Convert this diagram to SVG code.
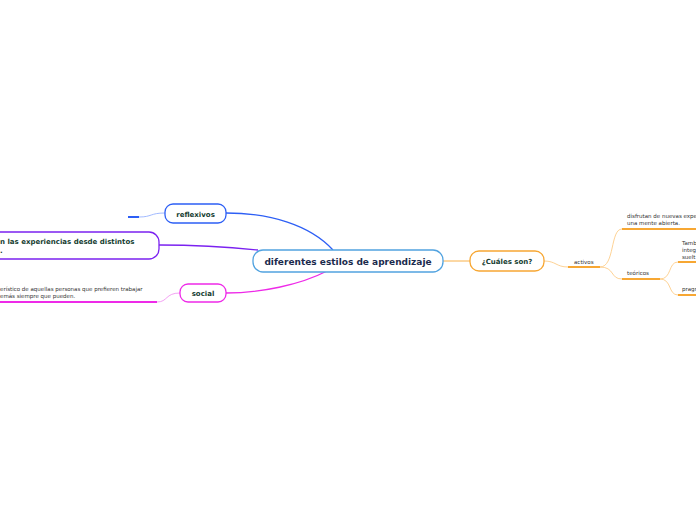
<svg xmlns="http://www.w3.org/2000/svg" width="696" height="520" viewBox="0 0 696 520">
<style>
.node{fill:#fff;stroke-width:1.3}
.t{font-family:"DejaVu Sans",Verdana,sans-serif;font-weight:bold;fill:#163d31}
.s{font-family:"DejaVu Sans",Verdana,sans-serif;fill:#333;font-size:5.5px}
.thin{fill:none;stroke-width:0.8}
.bar{stroke-width:2;fill:none}
</style>
<rect width="696" height="520" fill="#fff"/>
<g id="connectors">
<path d="M333,250 C310,225 270,213 226,213" fill="none" stroke="#2d5ff5" stroke-width="1.3"/>
<path d="M258,250 C220,246 190,245 159,245" fill="none" stroke="#7b22f0" stroke-width="1.3"/>
<path d="M327,271 C300,285 260,293 226,293" fill="none" stroke="#ee2ae8" stroke-width="1.3"/>
<path d="M443,261 L470,261" fill="none" stroke="#f7a733" stroke-width="0.9"/>
<path d="M165,213 C150,213 152,217 139,217" class="thin" stroke="#8aa8ff"/>
<path d="M128,217 L139,217" class="bar" stroke="#2d5ff5"/>
<path d="M180,293 C165,293 168,302 157,302" class="thin" stroke="#f08af0"/>
<path d="M0,302 L157,302" class="bar" stroke="#ee2ae8"/>
<path d="M544,261 C556,261 556,267 568,267" class="thin" stroke="#fcc77a"/>
<path d="M568,267 L600,267" class="bar" stroke="#f7a733"/>
<path d="M600,267 C615,267 610,229 622,229" class="thin" stroke="#fcc77a"/>
<path d="M600,267 C615,267 610,279 622,279" class="thin" stroke="#fcc77a"/>
<path d="M622,229 L696,229" class="bar" stroke="#f7a733"/>
<path d="M622,279 L660,279" class="bar" stroke="#f7a733"/>
<path d="M660,279 C672,279 668,262 678,262" class="thin" stroke="#fcc77a"/>
<path d="M660,279 C672,279 668,295 678,295" class="thin" stroke="#fcc77a"/>
<path d="M678,262 L696,262" class="bar" stroke="#f7a733"/>
<path d="M678,295 L696,295" class="bar" stroke="#f7a733"/>
</g>
<g id="central">
<rect x="253" y="250" width="190" height="22" rx="10" class="node" stroke="#52a3e0"/>
<text x="348" y="264.5" text-anchor="middle" class="t" font-size="9" style="fill:#1b2b4d">diferentes estilos de aprendizaje</text>
</g>
<g id="reflexivos">
<rect x="165" y="204" width="61" height="19" rx="8" class="node" stroke="#2d5ff5"/>
<text x="195.5" y="216.5" text-anchor="middle" class="t" font-size="7">reflexivos</text>
</g>
<g id="analizan">
<rect x="-20" y="232" width="179" height="27" rx="10" class="node" stroke="#7b22f0"/>
<text x="0" y="244" class="t" font-size="7">n las experiencias desde distintos</text>
<text x="0" y="253" class="t" font-size="7">.</text>
</g>
<g id="social">
<rect x="180" y="284" width="46" height="18" rx="8" class="node" stroke="#ee2ae8"/>
<text x="203" y="295.5" text-anchor="middle" class="t" font-size="7">social</text>
<text x="0" y="291" class="s">erístico de aquellas personas que prefieren trabajar</text>
<text x="0" y="297.5" class="s">emás siempre que pueden.</text>
</g>
<g id="cuales">
<rect x="470" y="251" width="74" height="20" rx="9" class="node" stroke="#f7a733"/>
<text x="507" y="264" text-anchor="middle" class="t" font-size="7">¿Cuáles son?</text>
</g>
<g id="activos">
<text x="574" y="263.5" class="s">activos</text>
</g>
<g id="disfrutan">
<text x="627" y="218" class="s">disfrutan de nuevas expe</text>
<text x="627" y="225" class="s">una mente abierta.</text>
</g>
<g id="teoricos">
<text x="627" y="275" class="s">teóricos</text>
</g>
<g id="tambien">
<text x="682" y="244.5" class="s">Tamb</text>
<text x="682" y="251.5" class="s">integ</text>
<text x="682" y="258.5" class="s">suelt</text>
</g>
<g id="pragmaticos">
<text x="682" y="291" class="s">pragm</text>
</g>
</svg>
